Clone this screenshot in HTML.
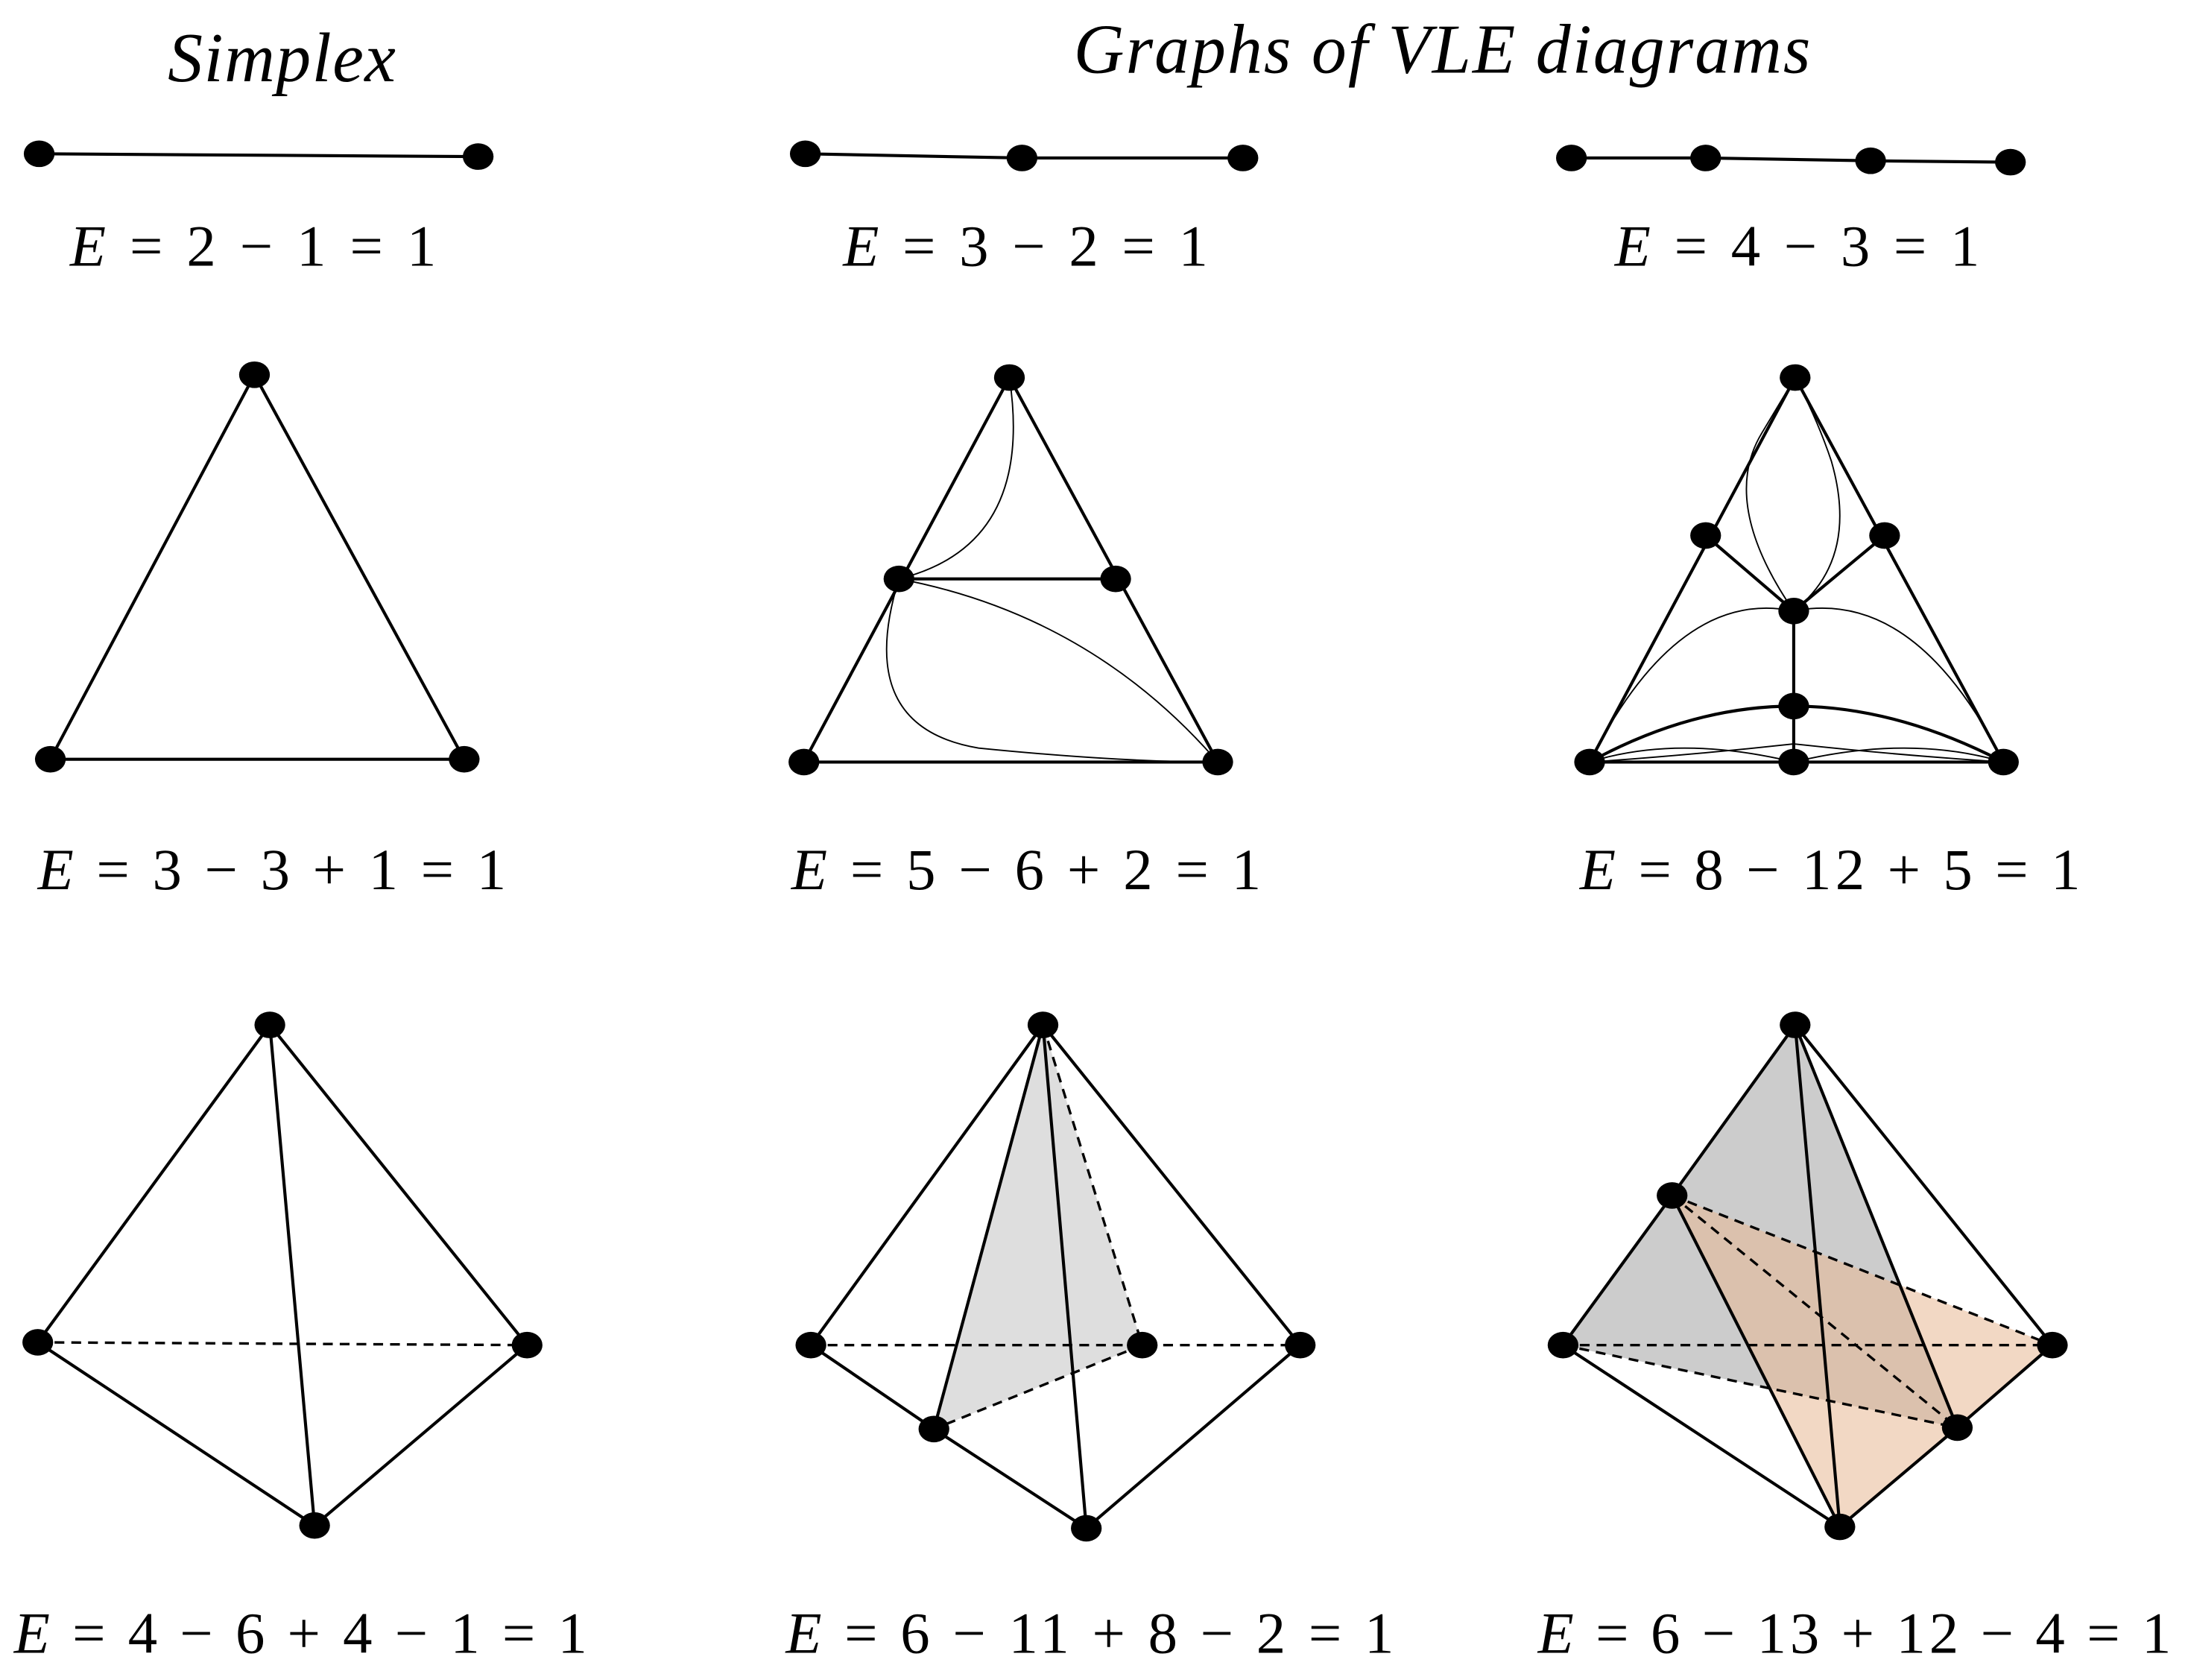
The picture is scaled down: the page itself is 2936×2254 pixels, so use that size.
<!DOCTYPE html>
<html><head><meta charset="utf-8"><style>
html,body{margin:0;padding:0;background:#fff;}
svg{display:block}
</style></head><body>
<svg width="2936" height="2254" viewBox="0 0 1565 1201.5" xmlns="http://www.w3.org/2000/svg">
<style>
text{font-family:"Liberation Serif",serif;fill:#000}
.h{font-style:italic;font-size:50px}
.e{font-size:42px}
.s{stroke:#000;stroke-width:2.2;fill:none}
.t{stroke:#000;stroke-width:1;fill:none}
.d{stroke:#000;stroke-width:1.8;fill:none;stroke-dasharray:7 5}
</style>
<text class="h" x="120" y="58" textLength="163" lengthAdjust="spacing">Simplex</text>
<text class="h" x="768" y="52" textLength="527" lengthAdjust="spacing">Graphs of VLE diagrams</text>

<!-- row 1 -->
<path class="s" d="M28 110 L342 112"/>
<path class="s" d="M576 110 L731 113 L889 113"/>
<path class="s" d="M1124 113 L1220 113 L1338 115 L1438 116"/>
<g fill="#000">
<ellipse cx="28" cy="110" rx="11" ry="9.5"/><ellipse cx="342" cy="112" rx="11" ry="9.5"/>
<ellipse cx="576" cy="110" rx="11" ry="9.5"/><ellipse cx="731" cy="113" rx="11" ry="9.5"/><ellipse cx="889" cy="113" rx="11" ry="9.5"/>
<ellipse cx="1124" cy="113" rx="11" ry="9.5"/><ellipse cx="1220" cy="113" rx="11" ry="9.5"/><ellipse cx="1338" cy="115" rx="11" ry="9.5"/><ellipse cx="1438" cy="116" rx="11" ry="9.5"/>
</g>
<text class="e" x="50" y="190" textLength="262" lengthAdjust="spacing"><tspan font-style="italic">E</tspan> = 2 − 1 = 1</text>
<text class="e" x="603" y="190" textLength="261" lengthAdjust="spacing"><tspan font-style="italic">E</tspan> = 3 − 2 = 1</text>
<text class="e" x="1155" y="190" textLength="261" lengthAdjust="spacing"><tspan font-style="italic">E</tspan> = 4 − 3 = 1</text>

<!-- row 2 -->
<path class="s" d="M182 268 L36 543 L332 543 Z"/>
<path class="s" d="M722 270 L575 545 L871 545 Z M643 414 L798 414"/>
<path class="t" d="M722 270 Q740 390 643 414 M643 414 Q780 440 871 545 M643 414 Q610 520 700 535 Q800 545 871 545"/>
<path class="s" d="M1284 270 L1137 545 L1433 545 Z M1220 383 L1283 437 L1348 383 M1283 437 L1283 545 M1137 545 Q1210 505 1283 505 Q1356 505 1433 545"/>
<path class="t" d="M1283 437 Q1230 360 1260 310 Q1284 270 1284 270 Q1300 300 1310 330 Q1330 400 1283 437 M1137 545 Q1200 420 1283 437 Q1370 420 1433 545 M1137 545 Q1200 525 1283 545 Q1366 525 1433 545 M1137 545 Q1210 540 1283 532 Q1356 540 1433 545"/>
<g fill="#000">
<ellipse cx="182" cy="268" rx="11" ry="9.5"/><ellipse cx="36" cy="543" rx="11" ry="9.5"/><ellipse cx="332" cy="543" rx="11" ry="9.5"/>
<ellipse cx="722" cy="270" rx="11" ry="9.5"/><ellipse cx="575" cy="545" rx="11" ry="9.5"/><ellipse cx="871" cy="545" rx="11" ry="9.5"/><ellipse cx="643" cy="414" rx="11" ry="9.5"/><ellipse cx="798" cy="414" rx="11" ry="9.5"/>
<ellipse cx="1284" cy="270" rx="11" ry="9.5"/><ellipse cx="1137" cy="545" rx="11" ry="9.5"/><ellipse cx="1433" cy="545" rx="11" ry="9.5"/><ellipse cx="1220" cy="383" rx="11" ry="9.5"/><ellipse cx="1348" cy="383" rx="11" ry="9.5"/><ellipse cx="1283" cy="437" rx="11" ry="9.5"/><ellipse cx="1283" cy="505" rx="11" ry="9.5"/><ellipse cx="1283" cy="545" rx="11" ry="9.5"/>
</g>
<text class="e" x="27" y="636" textLength="335" lengthAdjust="spacing"><tspan font-style="italic">E</tspan> = 3 − 3 + 1 = 1</text>
<text class="e" x="566" y="636" textLength="336" lengthAdjust="spacing"><tspan font-style="italic">E</tspan> = 5 − 6 + 2 = 1</text>
<text class="e" x="1130" y="636" textLength="358" lengthAdjust="spacing"><tspan font-style="italic">E</tspan> = 8 − 12 + 5 = 1</text>

<!-- row 3 -->
<path class="s" d="M193 733 L27 960 L225 1091 L377 962 Z M193 733 L225 1091"/>
<path class="d" d="M27 960 L377 962"/>

<polygon points="746,733 668,1022 817,962" fill="#d8d8d8" opacity="0.85"/>
<path class="s" d="M746 733 L580 962 L668 1022 L777 1093 L930 962 Z M746 733 L777 1093 M746 733 L668 1022"/>
<path class="d" d="M580 962 L930 962 M746 733 L817 962 L668 1022"/>

<polygon points="1284,733 1118,962 1400,1021" fill="#9a9a9a" opacity="0.5"/>
<polygon points="1196,855 1468,962 1316,1092" fill="#e8b894" opacity="0.55"/>
<path class="s" d="M1284 733 L1196 855 L1118 962 L1316 1092 L1400 1021 L1468 962 L1284 733 M1284 733 L1316 1092 M1284 733 L1400 1021 M1196 855 L1316 1092"/>
<path class="d" d="M1118 962 L1468 962 M1118 962 L1400 1021 M1196 855 L1468 962 M1196 855 L1400 1021"/>
<g fill="#000">
<ellipse cx="193" cy="733" rx="11" ry="9.5"/><ellipse cx="27" cy="960" rx="11" ry="9.5"/><ellipse cx="377" cy="962" rx="11" ry="9.5"/><ellipse cx="225" cy="1091" rx="11" ry="9.5"/>
<ellipse cx="746" cy="733" rx="11" ry="9.5"/><ellipse cx="580" cy="962" rx="11" ry="9.5"/><ellipse cx="930" cy="962" rx="11" ry="9.5"/><ellipse cx="777" cy="1093" rx="11" ry="9.5"/><ellipse cx="668" cy="1022" rx="11" ry="9.5"/><ellipse cx="817" cy="962" rx="11" ry="9.5"/>
<ellipse cx="1284" cy="733" rx="11" ry="9.5"/><ellipse cx="1118" cy="962" rx="11" ry="9.5"/><ellipse cx="1468" cy="962" rx="11" ry="9.5"/><ellipse cx="1316" cy="1092" rx="11" ry="9.5"/><ellipse cx="1196" cy="855" rx="11" ry="9.5"/><ellipse cx="1400" cy="1021" rx="11" ry="9.5"/>
</g>
<text class="e" x="10" y="1182" textLength="410" lengthAdjust="spacing"><tspan font-style="italic">E</tspan> = 4 − 6 + 4 − 1 = 1</text>
<text class="e" x="562" y="1182" textLength="435" lengthAdjust="spacing"><tspan font-style="italic">E</tspan> = 6 − 11 + 8 − 2 = 1</text>
<text class="e" x="1100" y="1182" textLength="453" lengthAdjust="spacing"><tspan font-style="italic">E</tspan> = 6 − 13 + 12 − 4 = 1</text>
</svg>
</body></html>
